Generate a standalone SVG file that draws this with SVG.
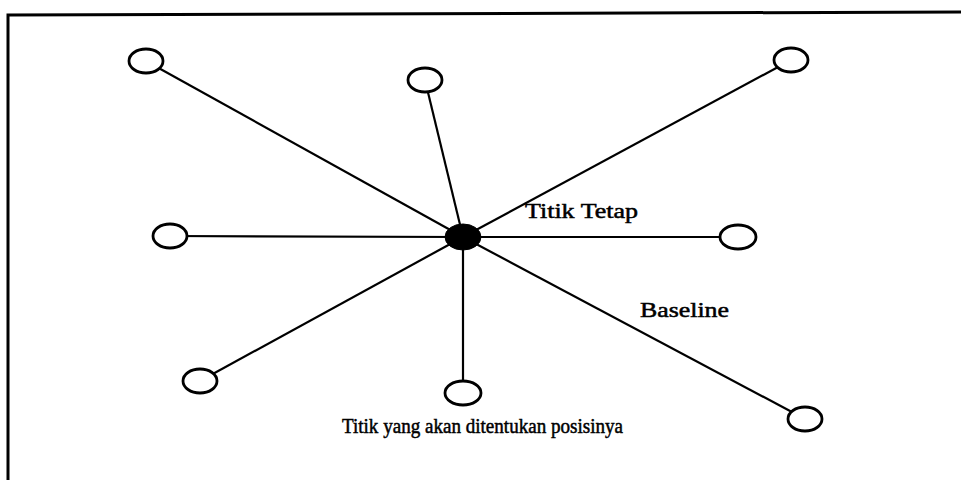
<svg xmlns="http://www.w3.org/2000/svg" width="961" height="480" viewBox="0 0 961 480">
<style>
.frame{fill:none;stroke:#000;stroke-width:3}
.edge{stroke:#000;stroke-width:2.2}
.node{fill:#fff;stroke:#000;stroke-width:2.8}
.hub{fill:#000;stroke:#000;stroke-width:1}
.lbl{font-family:"Liberation Serif","Times New Roman",serif;font-size:21px;fill:#000;stroke:#000;stroke-width:0.5}
</style>
<rect width="961" height="480" fill="#fff"/>
<path class="frame" d="M8,480 L8,15 L961,12"/>
<g id="connectors">
<line class="edge" x1="463" y1="237" x2="146" y2="61"/>
<line class="edge" x1="463" y1="237" x2="425" y2="80"/>
<line class="edge" x1="463" y1="237" x2="791" y2="60"/>
<line class="edge" x1="463" y1="237" x2="170" y2="236"/>
<line class="edge" x1="463" y1="237" x2="738" y2="237"/>
<line class="edge" x1="463" y1="237" x2="200" y2="381"/>
<line class="edge" x1="463" y1="237" x2="463" y2="393"/>
<line class="edge" x1="463" y1="237" x2="805" y2="419"/>
</g>
<g id="hub"><ellipse class="hub" cx="463" cy="237" rx="18" ry="13"/></g>
<g id="n1"><ellipse class="node" cx="146" cy="61" rx="17" ry="12"/></g>
<g id="n2"><ellipse class="node" cx="425" cy="80" rx="17" ry="12"/></g>
<g id="n3"><ellipse class="node" cx="791" cy="60" rx="17" ry="12"/></g>
<g id="n4"><ellipse class="node" cx="170" cy="236" rx="17" ry="12"/></g>
<g id="n5"><ellipse class="node" cx="738" cy="237" rx="18" ry="12"/></g>
<g id="n6"><ellipse class="node" cx="200" cy="381" rx="17" ry="12"/></g>
<g id="n7"><ellipse class="node" cx="463" cy="393" rx="18" ry="12"/></g>
<g id="n8"><ellipse class="node" cx="805" cy="419" rx="17" ry="12"/></g>
<text class="lbl" x="525" y="218" textLength="113" lengthAdjust="spacingAndGlyphs">Titik Tetap</text>
<text class="lbl" x="640" y="317" textLength="89" lengthAdjust="spacingAndGlyphs">Baseline</text>
<text class="lbl" x="342" y="433" textLength="281" lengthAdjust="spacingAndGlyphs">Titik yang akan ditentukan posisinya</text>
</svg>
